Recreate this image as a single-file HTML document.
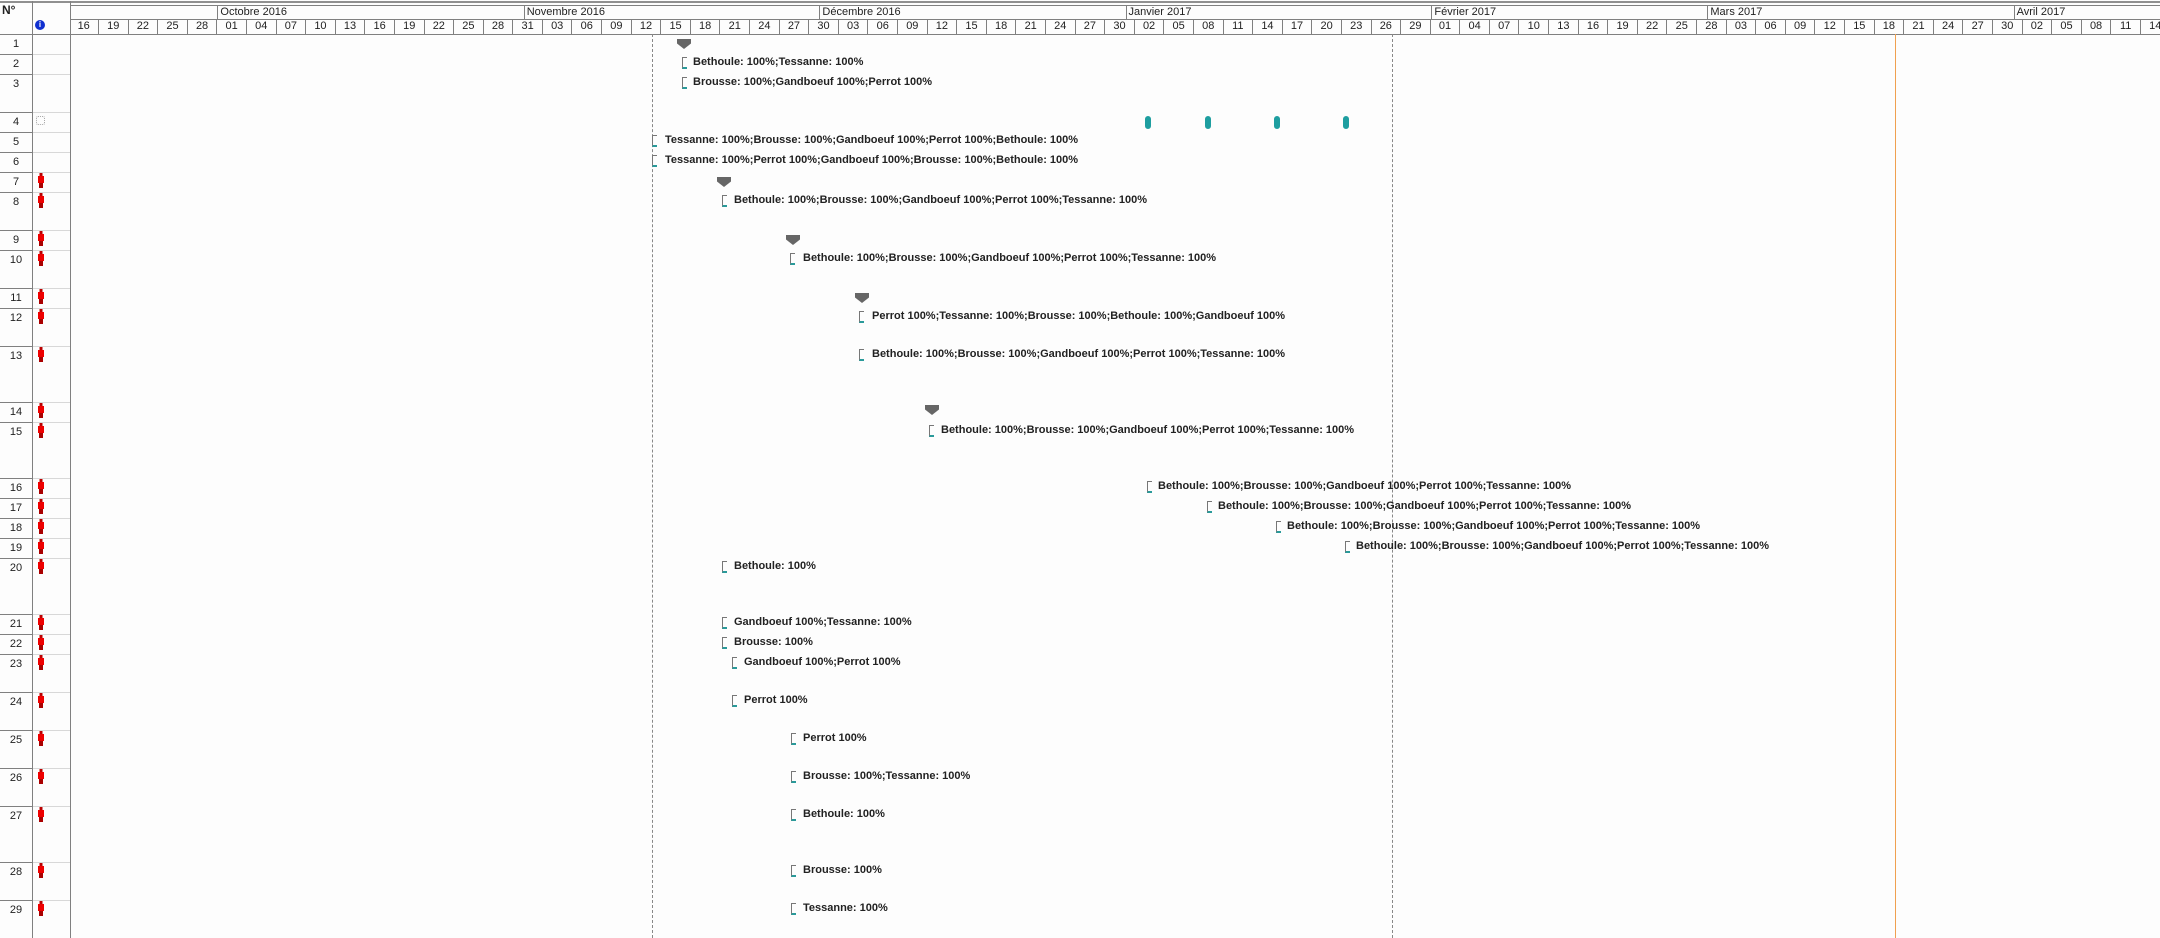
<!DOCTYPE html>
<html><head><meta charset="utf-8">
<style>
*{margin:0;padding:0;box-sizing:border-box}
body{width:2160px;height:938px;background:#fdfdfd;position:relative;overflow:hidden;font-family:"Liberation Sans",sans-serif;color:#222}
.a{position:absolute}
.hl{position:absolute;height:1px;background:#808080}
.vl{position:absolute;width:1px;background:#808080}
#days{position:absolute;left:69.4px;top:19px;height:15px;display:flex;white-space:nowrap}
#days div{width:29.6px;flex:none;height:15px;border-right:1px solid #808080;font-size:11px;line-height:15px;text-align:center}
.mon{position:absolute;top:5px;height:14px;border-left:1px solid #808080;font-size:11px;line-height:14px;padding-left:2px;white-space:nowrap}
.num{position:absolute;left:0;width:32px;text-align:center;font-size:11px;line-height:14px}
.rl1{position:absolute;left:0;width:32px;height:1px;background:#808080}
.rl2{position:absolute;left:33px;width:37px;height:1px;background:#d8d8d8}
.t{position:absolute;font-size:11px;font-weight:bold;line-height:16px;white-space:nowrap;color:#222}
.b{position:absolute;width:5px;height:12px;border:1px solid #777;border-right:none;border-bottom:2px solid #2a9a9a}
.s{position:absolute;width:14px;height:10px;background:#666;clip-path:polygon(0 0,100% 0,100% 45%,50% 100%,0 45%)}
.m{position:absolute;width:6px;height:13px;border-radius:3px;background:#1e9ea0}
.p{position:absolute;left:37px;width:7px;height:15px}
.p i{position:absolute;display:block}
</style></head><body>
<div class="hl" style="left:0;top:1px;width:2160px;height:2px;background:#909090"></div>
<div class="hl" style="left:70px;top:5px;width:2090px"></div>
<div class="hl" style="left:70px;top:19px;width:2090px"></div>
<div class="hl" style="left:0;top:34px;width:2160px"></div>
<div class="vl" style="left:32px;top:1px;height:937px"></div>
<div class="vl" style="left:70px;top:1px;height:937px"></div>
<div class="a" style="left:2px;top:3px;font-size:12px;font-weight:bold">N°</div>
<div class="a" style="left:35px;top:20px;width:10px;height:10px;border-radius:50%;background:#1030d0;color:#fff;font-size:8px;font-weight:bold;text-align:center;line-height:10px">i</div>

<div class="mon" style="left:217.4px;width:306px">Octobre 2016</div>
<div class="mon" style="left:523.7px;width:296px">Novembre 2016</div>
<div class="mon" style="left:819.4px;width:306px">Décembre 2016</div>
<div class="mon" style="left:1125.5px;width:306px">Janvier 2017</div>
<div class="mon" style="left:1431.4px;width:276px">Février 2017</div>
<div class="mon" style="left:1707.4px;width:306px">Mars 2017</div>
<div class="mon" style="left:2013.6px;width:150px">Avril 2017</div>

<div id="days"><div>16</div><div>19</div><div>22</div><div>25</div><div>28</div><div>01</div><div>04</div><div>07</div><div>10</div><div>13</div><div>16</div><div>19</div><div>22</div><div>25</div><div>28</div><div>31</div><div>03</div><div>06</div><div>09</div><div>12</div><div>15</div><div>18</div><div>21</div><div>24</div><div>27</div><div>30</div><div>03</div><div>06</div><div>09</div><div>12</div><div>15</div><div>18</div><div>21</div><div>24</div><div>27</div><div>30</div><div>02</div><div>05</div><div>08</div><div>11</div><div>14</div><div>17</div><div>20</div><div>23</div><div>26</div><div>29</div><div>01</div><div>04</div><div>07</div><div>10</div><div>13</div><div>16</div><div>19</div><div>22</div><div>25</div><div>28</div><div>03</div><div>06</div><div>09</div><div>12</div><div>15</div><div>18</div><div>21</div><div>24</div><div>27</div><div>30</div><div>02</div><div>05</div><div>08</div><div>11</div><div>14</div></div>

<!-- row lines -->
<div class="rl1" style="top:54px"></div><div class="rl2" style="top:54px"></div>
<div class="rl1" style="top:74px"></div><div class="rl2" style="top:74px"></div>
<div class="rl1" style="top:112px"></div><div class="rl2" style="top:112px"></div>
<div class="rl1" style="top:132px"></div><div class="rl2" style="top:132px"></div>
<div class="rl1" style="top:152px"></div><div class="rl2" style="top:152px"></div>
<div class="rl1" style="top:172px"></div><div class="rl2" style="top:172px"></div>
<div class="rl1" style="top:192px"></div><div class="rl2" style="top:192px"></div>
<div class="rl1" style="top:230px"></div><div class="rl2" style="top:230px"></div>
<div class="rl1" style="top:250px"></div><div class="rl2" style="top:250px"></div>
<div class="rl1" style="top:288px"></div><div class="rl2" style="top:288px"></div>
<div class="rl1" style="top:308px"></div><div class="rl2" style="top:308px"></div>
<div class="rl1" style="top:346px"></div><div class="rl2" style="top:346px"></div>
<div class="rl1" style="top:402px"></div><div class="rl2" style="top:402px"></div>
<div class="rl1" style="top:422px"></div><div class="rl2" style="top:422px"></div>
<div class="rl1" style="top:478px"></div><div class="rl2" style="top:478px"></div>
<div class="rl1" style="top:498px"></div><div class="rl2" style="top:498px"></div>
<div class="rl1" style="top:518px"></div><div class="rl2" style="top:518px"></div>
<div class="rl1" style="top:538px"></div><div class="rl2" style="top:538px"></div>
<div class="rl1" style="top:558px"></div><div class="rl2" style="top:558px"></div>
<div class="rl1" style="top:614px"></div><div class="rl2" style="top:614px"></div>
<div class="rl1" style="top:634px"></div><div class="rl2" style="top:634px"></div>
<div class="rl1" style="top:654px"></div><div class="rl2" style="top:654px"></div>
<div class="rl1" style="top:692px"></div><div class="rl2" style="top:692px"></div>
<div class="rl1" style="top:730px"></div><div class="rl2" style="top:730px"></div>
<div class="rl1" style="top:768px"></div><div class="rl2" style="top:768px"></div>
<div class="rl1" style="top:806px"></div><div class="rl2" style="top:806px"></div>
<div class="rl1" style="top:862px"></div><div class="rl2" style="top:862px"></div>
<div class="rl1" style="top:900px"></div><div class="rl2" style="top:900px"></div>

<!-- numbers -->
<div class="num" style="top:37px">1</div>
<div class="num" style="top:57px">2</div>
<div class="num" style="top:77px">3</div>
<div class="num" style="top:115px">4</div>
<div class="num" style="top:135px">5</div>
<div class="num" style="top:155px">6</div>
<div class="num" style="top:175px">7</div>
<div class="num" style="top:195px">8</div>
<div class="num" style="top:233px">9</div>
<div class="num" style="top:253px">10</div>
<div class="num" style="top:291px">11</div>
<div class="num" style="top:311px">12</div>
<div class="num" style="top:349px">13</div>
<div class="num" style="top:405px">14</div>
<div class="num" style="top:425px">15</div>
<div class="num" style="top:481px">16</div>
<div class="num" style="top:501px">17</div>
<div class="num" style="top:521px">18</div>
<div class="num" style="top:541px">19</div>
<div class="num" style="top:561px">20</div>
<div class="num" style="top:617px">21</div>
<div class="num" style="top:637px">22</div>
<div class="num" style="top:657px">23</div>
<div class="num" style="top:695px">24</div>
<div class="num" style="top:733px">25</div>
<div class="num" style="top:771px">26</div>
<div class="num" style="top:809px">27</div>
<div class="num" style="top:865px">28</div>
<div class="num" style="top:903px">29</div>

<!-- row 4 dotted icon -->
<div class="a" style="left:36px;top:116px;width:9px;height:9px;border:1px dotted #aaa;border-radius:2px"></div>

<!-- persons -->
<svg class="a" style="left:0;top:0" width="70" height="938">
<defs><g id="pp"><rect x="39.5" y="0" width="3" height="3" fill="#b00"/><rect x="38" y="3" width="6" height="7" fill="#e00"/><rect x="39" y="10" width="4" height="5" fill="#a00"/></g></defs>
<use href="#pp" y="173"/><use href="#pp" y="193"/><use href="#pp" y="231"/><use href="#pp" y="251"/>
<use href="#pp" y="289"/><use href="#pp" y="309"/><use href="#pp" y="347"/><use href="#pp" y="403"/>
<use href="#pp" y="423"/><use href="#pp" y="479"/><use href="#pp" y="499"/><use href="#pp" y="519"/>
<use href="#pp" y="539"/><use href="#pp" y="559"/><use href="#pp" y="615"/><use href="#pp" y="635"/>
<use href="#pp" y="655"/><use href="#pp" y="693"/><use href="#pp" y="731"/><use href="#pp" y="769"/>
<use href="#pp" y="807"/><use href="#pp" y="863"/><use href="#pp" y="901"/>
</svg>

<!-- vertical markers -->
<div class="a" style="left:652px;top:34px;height:904px;border-left:1px dashed #888"></div>
<div class="a" style="left:1392px;top:34px;height:904px;border-left:1px dashed #888"></div>
<div class="a" style="left:1895px;top:34px;height:904px;width:1px;background:#f0a050"></div>

<!-- summaries -->
<div class="s" style="left:677px;top:39px"></div>
<div class="s" style="left:717px;top:177px"></div>
<div class="s" style="left:786px;top:235px"></div>
<div class="s" style="left:855px;top:293px"></div>
<div class="s" style="left:925px;top:405px"></div>

<!-- milestones row 4 -->
<div class="m" style="left:1145px;top:116px"></div>
<div class="m" style="left:1205px;top:116px"></div>
<div class="m" style="left:1274px;top:116px"></div>
<div class="m" style="left:1343px;top:116px"></div>

<!-- tasks -->
<div class="b" style="left:682px;top:57px"></div><div class="t" style="left:693px;top:54px">Bethoule: 100%;Tessanne: 100%</div>
<div class="b" style="left:682px;top:77px"></div><div class="t" style="left:693px;top:74px">Brousse: 100%;Gandboeuf 100%;Perrot 100%</div>
<div class="b" style="left:652px;top:135px"></div><div class="t" style="left:665px;top:132px">Tessanne: 100%;Brousse: 100%;Gandboeuf 100%;Perrot 100%;Bethoule: 100%</div>
<div class="b" style="left:652px;top:155px"></div><div class="t" style="left:665px;top:152px">Tessanne: 100%;Perrot 100%;Gandboeuf 100%;Brousse: 100%;Bethoule: 100%</div>
<div class="b" style="left:722px;top:195px"></div><div class="t" style="left:734px;top:192px">Bethoule: 100%;Brousse: 100%;Gandboeuf 100%;Perrot 100%;Tessanne: 100%</div>
<div class="b" style="left:790px;top:253px"></div><div class="t" style="left:803px;top:250px">Bethoule: 100%;Brousse: 100%;Gandboeuf 100%;Perrot 100%;Tessanne: 100%</div>
<div class="b" style="left:859px;top:311px"></div><div class="t" style="left:872px;top:308px">Perrot 100%;Tessanne: 100%;Brousse: 100%;Bethoule: 100%;Gandboeuf 100%</div>
<div class="b" style="left:859px;top:349px"></div><div class="t" style="left:872px;top:346px">Bethoule: 100%;Brousse: 100%;Gandboeuf 100%;Perrot 100%;Tessanne: 100%</div>
<div class="b" style="left:929px;top:425px"></div><div class="t" style="left:941px;top:422px">Bethoule: 100%;Brousse: 100%;Gandboeuf 100%;Perrot 100%;Tessanne: 100%</div>
<div class="b" style="left:1147px;top:481px"></div><div class="t" style="left:1158px;top:478px">Bethoule: 100%;Brousse: 100%;Gandboeuf 100%;Perrot 100%;Tessanne: 100%</div>
<div class="b" style="left:1207px;top:501px"></div><div class="t" style="left:1218px;top:498px">Bethoule: 100%;Brousse: 100%;Gandboeuf 100%;Perrot 100%;Tessanne: 100%</div>
<div class="b" style="left:1276px;top:521px"></div><div class="t" style="left:1287px;top:518px">Bethoule: 100%;Brousse: 100%;Gandboeuf 100%;Perrot 100%;Tessanne: 100%</div>
<div class="b" style="left:1345px;top:541px"></div><div class="t" style="left:1356px;top:538px">Bethoule: 100%;Brousse: 100%;Gandboeuf 100%;Perrot 100%;Tessanne: 100%</div>
<div class="b" style="left:722px;top:561px"></div><div class="t" style="left:734px;top:558px">Bethoule: 100%</div>
<div class="b" style="left:722px;top:617px"></div><div class="t" style="left:734px;top:614px">Gandboeuf 100%;Tessanne: 100%</div>
<div class="b" style="left:722px;top:637px"></div><div class="t" style="left:734px;top:634px">Brousse: 100%</div>
<div class="b" style="left:732px;top:657px"></div><div class="t" style="left:744px;top:654px">Gandboeuf 100%;Perrot 100%</div>
<div class="b" style="left:732px;top:695px"></div><div class="t" style="left:744px;top:692px">Perrot 100%</div>
<div class="b" style="left:791px;top:733px"></div><div class="t" style="left:803px;top:730px">Perrot 100%</div>
<div class="b" style="left:791px;top:771px"></div><div class="t" style="left:803px;top:768px">Brousse: 100%;Tessanne: 100%</div>
<div class="b" style="left:791px;top:809px"></div><div class="t" style="left:803px;top:806px">Bethoule: 100%</div>
<div class="b" style="left:791px;top:865px"></div><div class="t" style="left:803px;top:862px">Brousse: 100%</div>
<div class="b" style="left:791px;top:903px"></div><div class="t" style="left:803px;top:900px">Tessanne: 100%</div>
</body></html>
